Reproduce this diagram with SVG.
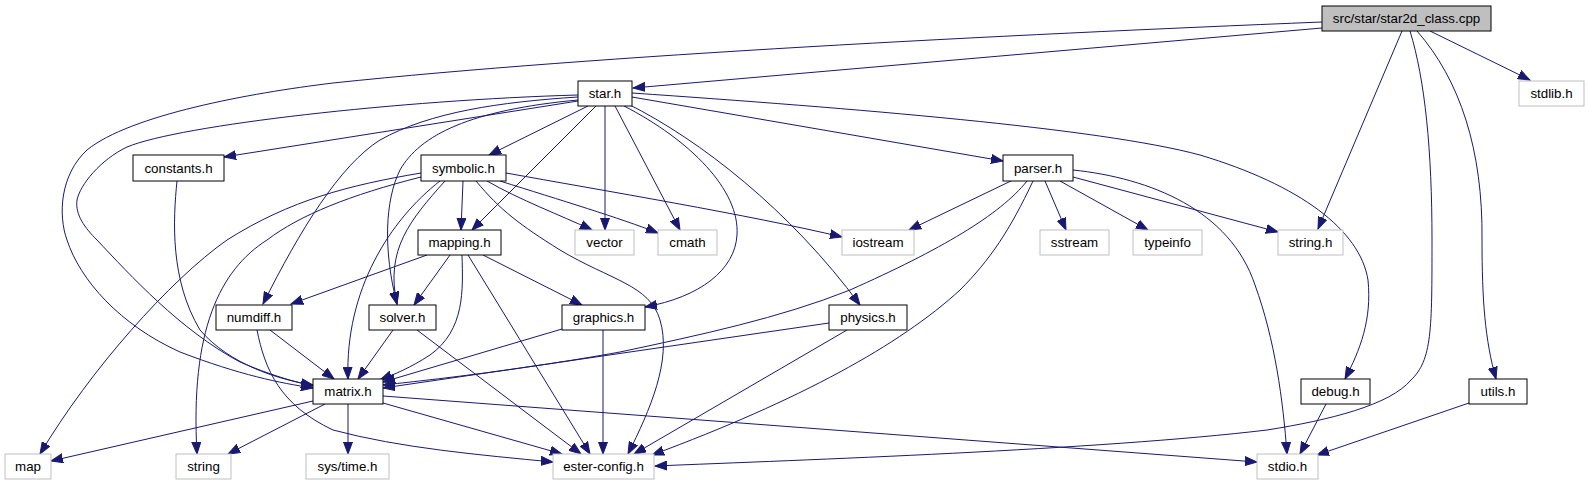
<svg xmlns="http://www.w3.org/2000/svg" width="1589" height="485" viewBox="0 0 1589 485">
<defs>
<style>
.n rect{fill:#fff;stroke:#000;stroke-width:1}
.x rect{fill:#fff;stroke:#bfbfbf;stroke-width:1}
.r rect{fill:#bfbfbf;stroke:#000;stroke-width:1}
text{font-family:"Liberation Sans",Arial,sans-serif;font-size:13.33px;fill:#000;text-anchor:middle}
#edges path{fill:none;stroke:#191970;stroke-width:1;marker-end:url(#a)}
</style>
<marker id="a" markerWidth="13" markerHeight="10" refX="12" refY="5" orient="auto" markerUnits="userSpaceOnUse">
<path d="M0,0.5 L12,5 L0,9.5 z" fill="#191970" stroke="#191970" stroke-width="1"/>
</marker>
</defs>
<rect width="1589" height="485" fill="#fff"/>
<g id="edges">
<!-- root -->
<path d="M1322,28 L633,88"/>
<path d="M1322,22 C1000,35 600,55 333,83 C250,93 130,115 87,150 C60,175 58,215 67,240 C80,280 120,325 180,352 C240,375 280,383 313,388"/>
<path d="M1402,31 L1318,229"/>
<path d="M1410,31 C1425,80 1432,150 1432,240 C1432,330 1432,360 1411,380 C1390,405 1330,420 1267,430 C1100,450 800,460 655,466"/>
<path d="M1417,31 C1460,80 1483,150 1482,240 C1482,300 1485,340 1496,379"/>
<path d="M1430,31 L1530,80"/>
<!-- star.h -->
<path d="M578,101 L224,157"/>
<path d="M588,106 L489,155"/>
<path d="M578,97 C500,102 430,112 380,140 C340,165 300,230 263,304"/>
<path d="M578,100 C470,110 420,135 400,170 C385,200 383,250 397,304"/>
<path d="M596,106 L472,230"/>
<path d="M605,106 L605,230"/>
<path d="M615,106 L680,230"/>
<path d="M624,106 C690,140 740,190 737,235 C735,270 700,297 645,307"/>
<path d="M628,104 C700,140 790,210 860,305"/>
<path d="M632,97 L1003,161"/>
<path d="M632,93 C850,108 1100,128 1200,155 C1300,185 1360,230 1368,280 C1372,320 1360,350 1345,379"/>
<path d="M578,95 C400,100 180,125 127,147 C100,160 80,185 77,200 C75,215 85,228 97,240 C130,275 180,330 240,362 C270,375 295,382 313,386"/>
<!-- constants -->
<path d="M177,181 C173,220 170,280 200,330 C230,365 280,380 313,385"/>
<!-- symbolic -->
<path d="M463,181 L461,230"/>
<path d="M445,181 C410,220 385,250 397,304"/>
<path d="M440,181 C390,220 345,290 348,379"/>
<path d="M421,173 C350,185 290,200 227,240 C170,280 90,370 40,454"/>
<path d="M421,177 C350,195 300,215 267,240 C220,270 190,330 197,454"/>
<path d="M487,181 C520,200 560,215 592,230"/>
<path d="M500,181 C560,200 620,218 658,233"/>
<path d="M506,173 C600,190 750,215 842,237"/>
<path d="M476,181 C500,210 520,225 560,250 C610,280 650,285 660,320 C672,360 650,410 628,454"/>
<!-- mapping -->
<path d="M427,255 L291,304"/>
<path d="M450,255 L414,305"/>
<path d="M483,255 L582,305"/>
<path d="M462,255 C463,290 465,330 430,355 C410,368 395,374 380,380"/>
<path d="M468,255 L590,454"/>
<!-- numdiff -->
<path d="M270,330 L334,379"/>
<path d="M257,330 C265,370 280,405 333,430 C400,448 480,455 553,462"/>
<!-- solver -->
<path d="M393,330 L358,379"/>
<path d="M417,330 L581,454"/>
<!-- graphics -->
<path d="M562,329 L383,382"/>
<path d="M603,330 L603,454"/>
<!-- physics -->
<path d="M829,323 L383,388"/>
<path d="M847,330 L634,454"/>
<!-- parser -->
<path d="M1013,180 L909,230"/>
<path d="M1045,181 L1066,230"/>
<path d="M1060,181 L1148,230"/>
<path d="M1073,177 L1278,232"/>
<path d="M1073,170 C1150,178 1230,210 1255,285 C1275,340 1283,400 1287,454"/>
<path d="M1027,181 C1000,215 940,250 850,290 C780,318 700,335 620,352 C520,370 430,380 383,385"/>
<path d="M1033,181 C1010,230 990,260 960,290 C900,345 800,400 652,455"/>
<!-- matrix -->
<path d="M313,401 L51,461"/>
<path d="M325,404 L228,454"/>
<path d="M348,404 L348,454"/>
<path d="M383,403 L562,454"/>
<path d="M383,396 L1257,462"/>
<!-- debug / utils -->
<path d="M1326,404 L1300,454"/>
<path d="M1469,403 L1317,455"/>
</g>
<g id="root" class="r"><rect x="1322" y="6" width="169" height="25"/><text x="1406.5" y="23">src/star/star2d_class.cpp</text></g>
<g id="stdlib" class="x"><rect x="1519" y="81" width="65" height="25"/><text x="1551.5" y="98">stdlib.h</text></g>
<g id="star" class="n"><rect x="578" y="81" width="54" height="25"/><text x="605" y="98">star.h</text></g>
<g id="constants" class="n"><rect x="133" y="155" width="91" height="26"/><text x="178.5" y="172.5">constants.h</text></g>
<g id="symbolic" class="n"><rect x="421" y="155" width="85" height="26"/><text x="463.5" y="172.5">symbolic.h</text></g>
<g id="parser" class="n"><rect x="1003" y="155" width="70" height="26"/><text x="1038" y="172.5">parser.h</text></g>
<g id="mapping" class="n"><rect x="418" y="230" width="83" height="25"/><text x="459.5" y="247">mapping.h</text></g>
<g id="vector" class="x"><rect x="575" y="230" width="59" height="25"/><text x="604.5" y="247">vector</text></g>
<g id="cmath" class="x"><rect x="658" y="230" width="59" height="25"/><text x="687.5" y="247">cmath</text></g>
<g id="iostream" class="x"><rect x="842" y="230" width="72" height="25"/><text x="878" y="247">iostream</text></g>
<g id="sstream" class="x"><rect x="1040" y="230" width="69" height="25"/><text x="1074.5" y="247">sstream</text></g>
<g id="typeinfo" class="x"><rect x="1133" y="230" width="69" height="25"/><text x="1167.5" y="247">typeinfo</text></g>
<g id="stringh" class="x"><rect x="1278" y="230" width="65" height="25"/><text x="1310.5" y="247">string.h</text></g>
<g id="numdiff" class="n"><rect x="216" y="305" width="76" height="25"/><text x="254" y="322">numdiff.h</text></g>
<g id="solver" class="n"><rect x="369" y="305" width="67" height="25"/><text x="402.5" y="322">solver.h</text></g>
<g id="graphics" class="n"><rect x="562" y="305" width="83" height="25"/><text x="603.5" y="322">graphics.h</text></g>
<g id="physics" class="n"><rect x="829" y="305" width="78" height="25"/><text x="868" y="322">physics.h</text></g>
<g id="matrix" class="n"><rect x="313" y="379" width="70" height="25"/><text x="348" y="396">matrix.h</text></g>
<g id="debug" class="n"><rect x="1301" y="379" width="69" height="25"/><text x="1335.5" y="396">debug.h</text></g>
<g id="utils" class="n"><rect x="1469" y="379" width="58" height="25"/><text x="1498" y="396">utils.h</text></g>
<g id="map" class="x"><rect x="5" y="454" width="46" height="25"/><text x="28" y="471">map</text></g>
<g id="string" class="x"><rect x="176" y="454" width="55" height="25"/><text x="203.5" y="471">string</text></g>
<g id="systime" class="x"><rect x="306" y="454" width="83" height="25"/><text x="347.5" y="471">sys/time.h</text></g>
<g id="esterconfig" class="x"><rect x="553" y="454" width="101" height="25"/><text x="603.5" y="471">ester-config.h</text></g>
<g id="stdio" class="x"><rect x="1257" y="454" width="61" height="25"/><text x="1287.5" y="471">stdio.h</text></g>
</svg>
